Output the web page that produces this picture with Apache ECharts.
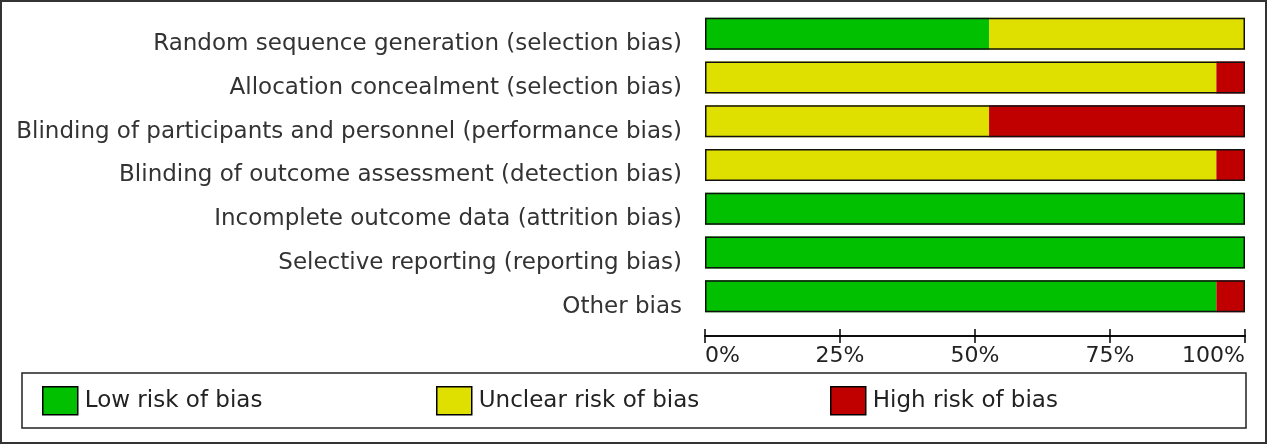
<!DOCTYPE html>
<html><head><meta charset="utf-8">
<script src="https://cdn.jsdelivr.net/npm/echarts@6/dist/echarts.min.js"></script>
<style>html,body{margin:0;padding:0;background:#fff}#c{width:1268px;height:445px}</style>
</head><body><div id="c"></div>
<script>
const categories = [
  "Random sequence generation (selection bias)",
  "Allocation concealment (selection bias)",
  "Blinding of participants and personnel (performance bias)",
  "Blinding of outcome assessment (detection bias)",
  "Incomplete outcome data (attrition bias)",
  "Selective reporting (reporting bias)",
  "Other bias"
];
const lowRisk     = [52.6, 0, 0, 0, 100, 100, 94.7];
const unclearRisk = [47.4, 94.7, 52.6, 94.7, 0, 0, 0];
const highRisk    = [0, 5.3, 47.4, 5.3, 0, 0, 5.3];
const tickLabels  = ["0%", "25%", "50%", "75%", "100%"];
const seriesNames = ["Low risk of bias", "Unclear risk of bias", "High risk of bias"];
const colors = ["#00C000", "#E0E000", "#C00000"];

const totals = categories.map((_, i) => lowRisk[i] + unclearRisk[i] + highRisk[i]);
const font = "DejaVu Sans, Verdana, sans-serif";

const chart = echarts.init(document.getElementById('c'), null, {renderer: 'canvas'});
const xCommon = {
  type: 'value', min: 0, max: 100, interval: 25, position: 'bottom', offset: 18,
  splitLine: {show: false},
  axisLine: {show: true, lineStyle: {color: '#000', width: 1.5}}
};
const legendBase = (name, left) => ({
  data: [name], left: left, top: 386, orient: 'horizontal', padding: 0,
  itemWidth: 35, itemHeight: 28, itemGap: 7, icon: 'rect',
  textStyle: {fontFamily: font, fontSize: 23, color: '#222', padding: [4, 0, 0, 2]},
  itemStyle: {borderColor: '#000', borderWidth: 1.5},
  selectedMode: false
});
chart.setOption({
  animation: false,
  grid: {left: 705, right: 23, top: 12, bottom: 127, containLabel: false},
  xAxis: [
    Object.assign({}, xCommon, {
      axisTick: {show: true, inside: false, length: 7, lineStyle: {color: '#000', width: 1.5}},
      axisLabel: {show: true, formatter: v => tickLabels[v / 25], fontFamily: font, fontSize: 22,
        color: '#222', margin: 9, alignMinLabel: 'left', alignMaxLabel: 'right'}
    }),
    Object.assign({}, xCommon, {
      axisTick: {show: true, inside: true, length: 7, lineStyle: {color: '#000', width: 1.5}},
      axisLabel: {show: false}
    })
  ],
  yAxis: {
    type: 'category', data: categories, inverse: true,
    axisLine: {show: false}, axisTick: {show: false},
    axisLabel: {fontFamily: font, fontSize: 23, color: '#333', margin: 23,
      verticalAlign: 'top', lineHeight: 21}
  },
  legend: [
    legendBase(seriesNames[0], 42),
    legendBase(seriesNames[1], 436),
    legendBase(seriesNames[2], 830)
  ],
  graphic: [
    {type: 'rect', shape: {x: 1, y: 1, width: 1265, height: 442}, style: {fill: 'none', stroke: '#333', lineWidth: 2}, silent: true},
    {type: 'rect', shape: {x: 22, y: 373, width: 1224, height: 55}, style: {fill: 'none', stroke: '#222', lineWidth: 1.5}, silent: true}
  ],
  series: [
    {name: seriesNames[0], type: 'bar', stack: 'r', data: lowRisk, barWidth: 32, itemStyle: {color: colors[0]}},
    {name: seriesNames[1], type: 'bar', stack: 'r', data: unclearRisk, barWidth: 32, itemStyle: {color: colors[1]}},
    {name: seriesNames[2], type: 'bar', stack: 'r', data: highRisk, barWidth: 32, itemStyle: {color: colors[2]}},
    {name: 'outline', type: 'bar', data: totals, barWidth: 32, barGap: '-100%', z: 5,
      itemStyle: {color: 'rgba(0,0,0,0)', borderColor: '#111', borderWidth: 1.5}, silent: true}
  ]
});
</script></body></html>
